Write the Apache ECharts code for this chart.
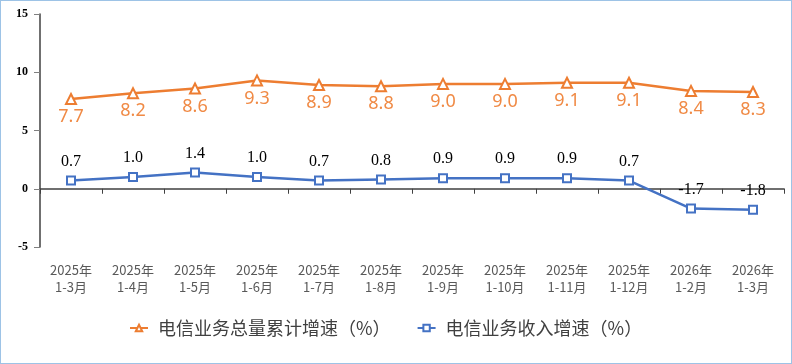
<!DOCTYPE html>
<html><head><meta charset="utf-8">
<script src="https://cdn.jsdelivr.net/npm/echarts@6/dist/echarts.min.js"></script>
<style>
html,body{margin:0;padding:0;background:#fff;}
#c{width:790px;height:362px;border:1px solid #9dc3e6;}
</style></head>
<body><div id="c"></div>
<script>
const categories = ['2025年\n1-3月','2025年\n1-4月','2025年\n1-5月','2025年\n1-6月','2025年\n1-7月','2025年\n1-8月','2025年\n1-9月','2025年\n1-10月','2025年\n1-11月','2025年\n1-12月','2026年\n1-2月','2026年\n1-3月'];
const volumeGrowth = [7.7, 8.2, 8.6, 9.3, 8.9, 8.8, 9.0, 9.0, 9.1, 9.1, 8.4, 8.3];
const revenueGrowth = [0.7, 1.0, 1.4, 1.0, 0.7, 0.8, 0.9, 0.9, 0.9, 0.7, -1.7, -1.8];
const seriesNames = ['电信业务总量累计增速（%）','电信业务收入增速（%）'];

const chart = echarts.init(document.getElementById('c'));
chart.setOption({
  animation:false,
  grid:{left:39,right:7,top:13,bottom:116},
  legend:{
    top:313, left:123, itemGap:26, itemWidth:18, itemHeight:8,
    textStyle:{fontSize:18,color:'#404040',fontFamily:'Noto Sans CJK SC',padding:[0,0,0,5]},
    data:seriesNames
  },
  xAxis:{
    type:'category', data:categories, boundaryGap:true,
    axisLine:{lineStyle:{color:'#404040',width:1.5}},
    axisTick:{show:true,alignWithLabel:false,length:5,lineStyle:{color:'#404040'}},
    axisLabel:{fontSize:13,color:'#595959',lineHeight:17,margin:15,interval:0,fontFamily:'Noto Sans CJK SC'}
  },
  yAxis:{
    type:'value', min:-5, max:15, interval:5,
    splitLine:{show:false},
    axisLine:{show:true,lineStyle:{color:'#404040',width:1.5}},
    axisTick:{show:true,length:6,lineStyle:{color:'#808080'}},
    axisLabel:{fontSize:12,fontWeight:'bold',color:'#000',fontFamily:'Liberation Serif',margin:12}
  },
  series:[
    {name:seriesNames[0], type:'line', data:volumeGrowth,
     symbol:'triangle', symbolSize:10, showAllSymbol:true,
     lineStyle:{color:'#ED7D31',width:2.5},
     itemStyle:{color:'#fff',borderColor:'#ED7D31',borderWidth:2},
     label:{show:true,position:'bottom',distance:3,color:'#F08A45',fontSize:18,fontFamily:'Noto Sans',formatter:p=>p.value.toFixed(1)}
    },
    {name:seriesNames[1], type:'line', data:revenueGrowth,
     symbol:'rect', symbolSize:8, showAllSymbol:true,
     lineStyle:{color:'#4472C4',width:2.5},
     itemStyle:{color:'#fff',borderColor:'#4472C4',borderWidth:2},
     label:{show:true,position:'top',distance:6,color:'#000',fontSize:16,fontFamily:'Liberation Serif',formatter:p=>p.value.toFixed(1)}
    }
  ]
});
</script></body></html>
